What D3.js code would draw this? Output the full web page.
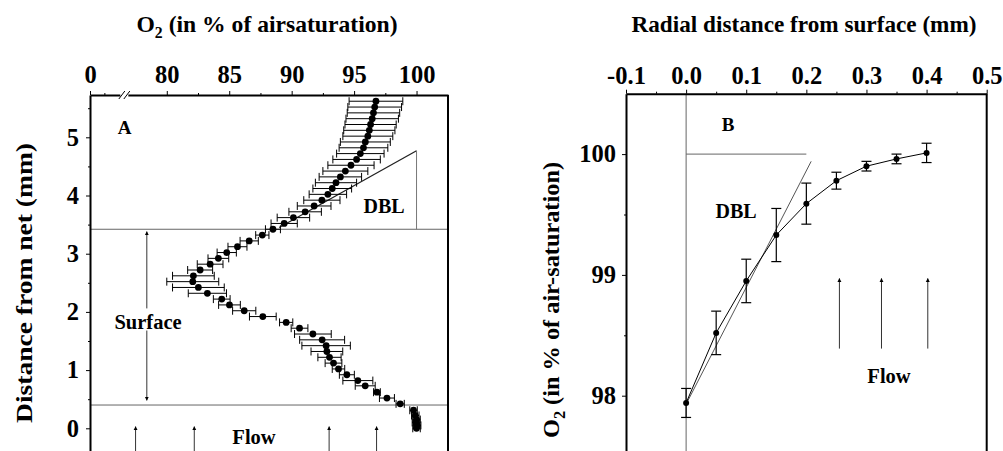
<!DOCTYPE html>
<head>
  <style>
    body { margin: 0; background: #fff; }
    svg { display: block; }
    text { font-family: "Liberation Serif", "Times New Roman", serif; font-weight: bold; fill: #000; }
  </style>
  <title>O2 profiles</title>
</head>

<body>
  <script src="https://cdn.jsdelivr.net/npm/d3@7/dist/d3.min.js"></script>
  <svg width="1003" height="451"></svg>

  <script>
    // ---- panel A data: distance from net (mm), O2 (%), sd
    var depthA = [5.62, 5.52, 5.42, 5.32, 5.22, 5.12, 5.02, 4.92, 4.82, 4.72, 4.62, 4.52, 4.42, 4.32, 4.22, 4.12, 4.02, 3.92, 3.82, 3.72, 3.62, 3.52, 3.42,
                  3.32, 3.22, 3.12, 3.02, 2.92, 2.82, 2.72, 2.62, 2.52, 2.42, 2.32, 2.22, 2.12, 2.02, 1.92, 1.82, 1.72, 1.62, 1.52, 1.42, 1.32, 1.22, 1.12, 1.02,
                  0.92, 0.82, 0.73, 0.62, 0.52, 0.42, 0.31, 0.22, 0.15, 0.10, 0.05, 0.00];
    var o2A = [96.75, 96.65, 96.55, 96.45, 96.32, 96.22, 96.1, 95.9, 95.75, 95.5, 95.2, 94.75, 94.3, 93.9, 93.55, 93.25, 92.9, 92.42, 91.8, 91.08, 90.14, 89.4, 88.5,
               87.65, 86.6, 85.66, 84.8, 84.13, 83.47, 82.67, 82.13, 82.08, 82.53, 83.25, 84.4, 85.02, 86.2, 87.69, 89.56, 90.63, 91.7, 92.44, 92.76, 92.82, 93.03, 93.35, 93.75,
               94.42, 95.3, 95.89, 96.83, 97.63, 98.69, 99.76, 99.9, 100.0, 99.95, 100.05, 100.0];
    var errA = [2.15, 2.15, 2.1, 2.1, 2.05, 2.05, 2.0, 2.0, 1.95, 1.9, 1.9, 1.85, 1.8, 1.7, 1.65, 1.55, 1.5, 1.45, 1.35, 1.3, 1.3, 1.05, 0.6,
                0.53, 0.73, 0.76, 0.77, 0.83, 1.03, 1.0, 1.67, 2.08, 2.07, 1.53, 0.67, 0.87, 0.93, 1.07, 0.53, 0.67, 1.47, 1.8, 1.94, 1.27, 0.93, 0.67, 0.5,
                0.6, 1.2, 0.8, 0.27, 0.6, 0.33, 0.3, 0.3, 0.3, 0.3, 0.3, 0.3];

    // ---- panel B data: radial distance (mm), O2 (%), sd
    var distB = [0.00, 0.05, 0.10, 0.15, 0.20, 0.25, 0.30, 0.35, 0.40];
    var o2B = [97.94, 98.52, 98.95, 99.33, 99.59, 99.78, 99.90, 99.96, 100.01];
    var errB = [0.12, 0.18, 0.18, 0.22, 0.17, 0.07, 0.04, 0.04, 0.08];

    // ticks
    var xTicksA = [73.85, 80, 85, 90, 95, 100];
    var xLabelsA = ["0", "80", "85", "90", "95", "100"];
    var xMinorA = [75, 82.5, 87.5, 92.5, 97.5];
    var yTicksA = [0, 1, 2, 3, 4, 5];
    var yMinorA = [0.5, 1.5, 2.5, 3.5, 4.5, 5.5];
    var xTicksB = [-0.1, 0.0, 0.1, 0.2, 0.3, 0.4, 0.5];
    var xMinorB = [-0.05, 0.05, 0.15, 0.25, 0.35, 0.45];
    var yTicksB = [98, 99, 100];
    var yMinorB = [98.5, 99.5];

    // annotations
    var boundsA = [3.42, 0.40];          // DBL top / surface limits (mm)
    var dblA = [[89.0, 3.45], [100, 4.77]];
    var flowA = [77.5, 82.2, 93.0, 96.8];
    var surfaceArrowA = 78.4;
    var dblB = [[0.0, 97.93], [0.208, 99.94]];
    var flowB = [0.255, 0.325, 0.402];

    var svg = d3.select("svg");

    // serif bold tick labels (d3 axis puts sans-serif on the group)
    function styleAxis(g) {
      g.attr("font-family", null).attr("font-size", null);
      g.selectAll("text")
       .style("font-family", "'Liberation Serif', serif")
       .style("font-weight", "bold")
       .style("font-size", "24.5px");
      g.selectAll("path").attr("stroke-width", 2);
    }

    svg.append("defs").append("marker")
       .attr("id", "head")
       .attr("viewBox", "0 0 10 10")
       .attr("refX", 9).attr("refY", 5)
       .attr("markerWidth", 4).attr("markerHeight", 7)
       .attr("markerUnits", "userSpaceOnUse")
       .attr("orient", "auto-start-reverse")
       .append("path").attr("d", "M0,0L10,5L0,10Z").attr("fill", "#000");

    // ================= panel A =================
    var xA = d3.scaleLinear().domain([73.85, 102.52]).range([90, 448]),
        yA = d3.scaleLinear().domain([-0.5, 5.727]).range([457.4, 95]);

    var gA = svg.append("g");

    // guide lines
    gA.selectAll(".bound")
      .data(boundsA).enter().append("line")
      .attr("x1", xA.range()[0]).attr("x2", xA.range()[1])
      .attr("y1", function(d) { return yA(d); }).attr("y2", function(d) { return yA(d); })
      .attr("stroke", "#666").attr("stroke-width", 1);

    gA.append("line")
      .attr("x1", xA(dblA[0][0])).attr("y1", yA(dblA[0][1]))
      .attr("x2", xA(dblA[1][0])).attr("y2", yA(dblA[1][1]))
      .attr("stroke", "#222").attr("stroke-width", 1.3);
    gA.append("line")
      .attr("x1", xA(dblA[1][0])).attr("y1", yA(dblA[1][1]))
      .attr("x2", xA(dblA[1][0])).attr("y2", yA(boundsA[0]))
      .attr("stroke", "#777").attr("stroke-width", 1);

    // surface double arrow (gap for label)
    gA.append("line")
      .attr("x1", xA(surfaceArrowA)).attr("x2", xA(surfaceArrowA))
      .attr("y1", yA(2.06)).attr("y2", yA(3.38))
      .attr("stroke", "#333").attr("stroke-width", 1).attr("marker-end", "url(#head)");
    gA.append("line")
      .attr("x1", xA(surfaceArrowA)).attr("x2", xA(surfaceArrowA))
      .attr("y1", yA(1.68)).attr("y2", yA(0.48))
      .attr("stroke", "#333").attr("stroke-width", 1).attr("marker-end", "url(#head)");

    // flow arrows
    gA.selectAll(".flow")
      .data(flowA).enter().append("line")
      .attr("x1", function(d) { return xA(d); }).attr("x2", function(d) { return xA(d); })
      .attr("y1", yA(-0.5)).attr("y2", yA(0.03))
      .attr("stroke", "#333").attr("stroke-width", 1).attr("marker-end", "url(#head)");

    // error bars
    var pointsA = depthA.map(function(d, i) { return { d: d, o: o2A[i], e: errA[i] }; });
    var eb = gA.selectAll(".ebA").data(pointsA).enter().append("g")
               .attr("stroke", "#000").attr("stroke-width", 1);
    eb.append("line")
      .attr("x1", function(p) { return xA(p.o - p.e); }).attr("x2", function(p) { return xA(p.o + p.e); })
      .attr("y1", function(p) { return yA(p.d); }).attr("y2", function(p) { return yA(p.d); });
    eb.append("line")
      .attr("x1", function(p) { return xA(p.o - p.e); }).attr("x2", function(p) { return xA(p.o - p.e); })
      .attr("y1", function(p) { return yA(p.d) - 4; }).attr("y2", function(p) { return yA(p.d) + 4; });
    eb.append("line")
      .attr("x1", function(p) { return xA(p.o + p.e); }).attr("x2", function(p) { return xA(p.o + p.e); })
      .attr("y1", function(p) { return yA(p.d) - 4; }).attr("y2", function(p) { return yA(p.d) + 4; });

    gA.selectAll(".dotA").data(pointsA).enter().append("circle")
      .attr("cx", function(p) { return xA(p.o); })
      .attr("cy", function(p) { return yA(p.d); })
      .attr("r", 3.4).attr("fill", "#000");

    // axes A
    gA.append("g")
      .attr("transform", "translate(0,95)")
      .call(d3.axisTop(xA).tickValues(xTicksA).tickSize(4).tickPadding(8).tickSizeOuter(0)
              .tickFormat(function(d, i) { return xLabelsA[i]; }))
      .call(styleAxis);
    gA.append("g")
      .attr("transform", "translate(0,95)")
      .call(d3.axisTop(xA).tickValues(xMinorA).tickSize(2).tickFormat(""))
      .select("path").remove();

    gA.append("g")
      .attr("transform", "translate(90,0)")
      .call(d3.axisLeft(yA).tickValues(yTicksA).tickSize(4).tickPadding(7).tickSizeOuter(0)
              .tickFormat(d3.format("d")))
      .call(styleAxis);
    gA.append("g")
      .attr("transform", "translate(90,0)")
      .call(d3.axisLeft(yA).tickValues(yMinorA).tickSize(2).tickFormat(""))
      .select("path").remove();

    gA.append("line")
      .attr("x1", xA.range()[1]).attr("x2", xA.range()[1])
      .attr("y1", yA.range()[1]).attr("y2", yA.range()[0])
      .attr("stroke", "#000").attr("stroke-width", 2);

    // axis break
    var bx = xA(76.6);
    gA.append("rect").attr("x", bx - 4).attr("y", 92).attr("width", 8).attr("height", 6).attr("fill", "#fff");
    [-2.5, 2.5].forEach(function(o) {
      gA.append("line")
        .attr("x1", bx + o - 3).attr("y1", 99).attr("x2", bx + o + 3).attr("y2", 91)
        .attr("stroke", "#000").attr("stroke-width", 1);
    });

    // labels A
    var titleA = svg.append("text").attr("x", 267).attr("y", 32)
                    .attr("text-anchor", "middle").attr("font-size", 24)
                    .attr("textLength", 261).attr("lengthAdjust", "spacingAndGlyphs");
    titleA.append("tspan").text("O");
    titleA.append("tspan").attr("font-size", 16).attr("dy", 6).text("2");
    titleA.append("tspan").attr("dy", -6).text(" (in % of airsaturation)");

    svg.append("text")
       .attr("transform", "translate(32,283) rotate(-90)")
       .attr("text-anchor", "middle").attr("font-size", 24)
       .attr("textLength", 280).attr("lengthAdjust", "spacingAndGlyphs")
       .text("Distance from net (mm)");

    svg.append("text").attr("x", 124.5).attr("y", 134).attr("text-anchor", "middle")
       .attr("font-size", 19).text("A");
    svg.append("text").attr("x", 384).attr("y", 213).attr("text-anchor", "middle")
       .attr("font-size", 20).text("DBL");
    svg.append("text").attr("x", 148).attr("y", 329).attr("text-anchor", "middle")
       .attr("font-size", 20.5).text("Surface");
    svg.append("text").attr("x", 254).attr("y", 443.5).attr("text-anchor", "middle")
       .attr("font-size", 20.5).text("Flow");

    // ================= panel B =================
    var xB = d3.scaleLinear().domain([-0.1, 0.5]).range([626, 986.7]),
        yB = d3.scaleLinear().domain([97.5, 100.5]).range([456.1, 93.7]);

    var gB = svg.append("g");

    gB.append("line")
      .attr("x1", xB(0)).attr("x2", xB(0))
      .attr("y1", yB.range()[1]).attr("y2", yB.range()[0])
      .attr("stroke", "#666").attr("stroke-width", 1);
    gB.append("line")
      .attr("x1", xB(0)).attr("x2", xB(0.2))
      .attr("y1", yB(100)).attr("y2", yB(100))
      .attr("stroke", "#666").attr("stroke-width", 1);
    gB.append("line")
      .attr("x1", xB(dblB[0][0])).attr("y1", yB(dblB[0][1]))
      .attr("x2", xB(dblB[1][0])).attr("y2", yB(dblB[1][1]))
      .attr("stroke", "#555").attr("stroke-width", 1);

    gB.selectAll(".flow")
      .data(flowB).enter().append("line")
      .attr("x1", function(d) { return xB(d); }).attr("x2", function(d) { return xB(d); })
      .attr("y1", yB(98.39)).attr("y2", yB(98.97))
      .attr("stroke", "#333").attr("stroke-width", 1).attr("marker-end", "url(#head)");

    var pointsB = distB.map(function(d, i) { return { x: d, o: o2B[i], e: errB[i] }; });

    gB.append("path").datum(pointsB)
      .attr("fill", "none").attr("stroke", "#000").attr("stroke-width", 1)
      .attr("d", d3.line().x(function(p) { return xB(p.x); }).y(function(p) { return yB(p.o); }));

    var ebB = gB.selectAll(".ebB").data(pointsB).enter().append("g")
                .attr("stroke", "#000").attr("stroke-width", 1.2);
    ebB.append("line")
       .attr("x1", function(p) { return xB(p.x); }).attr("x2", function(p) { return xB(p.x); })
       .attr("y1", function(p) { return yB(p.o - p.e); }).attr("y2", function(p) { return yB(p.o + p.e); });
    [-1, 1].forEach(function(s) {
      ebB.append("line")
         .attr("x1", function(p) { return xB(p.x) - 5; }).attr("x2", function(p) { return xB(p.x) + 5; })
         .attr("y1", function(p) { return yB(p.o + s * p.e); }).attr("y2", function(p) { return yB(p.o + s * p.e); });
    });

    gB.selectAll(".dotB").data(pointsB).enter().append("circle")
      .attr("cx", function(p) { return xB(p.x); })
      .attr("cy", function(p) { return yB(p.o); })
      .attr("r", 3).attr("fill", "#000");

    // axes B
    gB.append("g")
      .attr("transform", "translate(0," + yB.range()[1] + ")")
      .call(d3.axisTop(xB).tickValues(xTicksB).tickSize(4).tickPadding(6).tickSizeOuter(0)
              .tickFormat(function(d) { return d.toFixed(1); }))
      .call(styleAxis);
    gB.append("g")
      .attr("transform", "translate(0," + yB.range()[1] + ")")
      .call(d3.axisTop(xB).tickValues(xMinorB).tickSize(2).tickFormat(""))
      .select("path").remove();

    gB.append("g")
      .attr("transform", "translate(" + xB.range()[0] + ",0)")
      .call(d3.axisLeft(yB).tickValues(yTicksB).tickSize(4).tickPadding(6).tickSizeOuter(0)
              .tickFormat(d3.format("d")))
      .call(styleAxis);
    gB.append("g")
      .attr("transform", "translate(" + xB.range()[0] + ",0)")
      .call(d3.axisLeft(yB).tickValues(yMinorB).tickSize(2).tickFormat(""))
      .select("path").remove();

    gB.append("line")
      .attr("x1", xB.range()[1]).attr("x2", xB.range()[1])
      .attr("y1", yB.range()[1]).attr("y2", yB.range()[0])
      .attr("stroke", "#000").attr("stroke-width", 2);

    // labels B
    svg.append("text").attr("x", 804).attr("y", 32)
       .attr("text-anchor", "middle").attr("font-size", 24)
       .attr("textLength", 345).attr("lengthAdjust", "spacingAndGlyphs")
       .text("Radial distance from surface (mm)");

    var ylB = svg.append("text")
                 .attr("transform", "translate(559,300) rotate(-90)")
                 .attr("text-anchor", "middle").attr("font-size", 24)
                 .attr("textLength", 276).attr("lengthAdjust", "spacingAndGlyphs");
    ylB.append("tspan").text("O");
    ylB.append("tspan").attr("font-size", 16).attr("dy", 6).text("2");
    ylB.append("tspan").attr("dy", -6).text(" (in % of air-saturation)");

    svg.append("text").attr("x", 728).attr("y", 130.5).attr("text-anchor", "middle")
       .attr("font-size", 19).text("B");
    svg.append("text").attr("x", 736).attr("y", 217.5).attr("text-anchor", "middle")
       .attr("font-size", 20).text("DBL");
    svg.append("text").attr("x", 889).attr("y", 382.5).attr("text-anchor", "middle")
       .attr("font-size", 20.5).text("Flow");
  </script>
</body>
